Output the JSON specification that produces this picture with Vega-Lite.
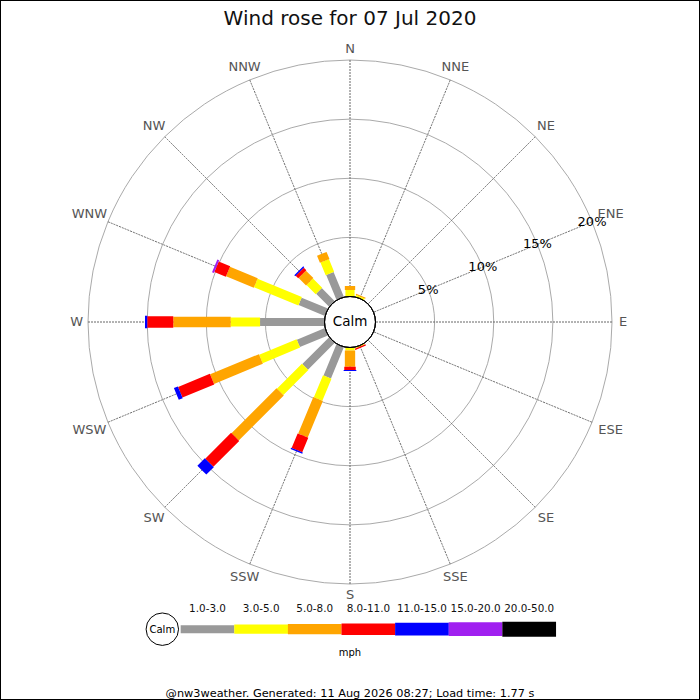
{
  "$schema": "https://vega.github.io/schema/vega-lite/v6.json",
  "background": "black",
  "padding": 1,
  "bounds": "flush",
  "spacing": 0,
  "config": {"view": {"stroke": null, "fill": "white"}, "font": "DejaVu Sans"},
  "datasets": {
    "dirs": [
      {"dir": 0, "label": "N"}, {"dir": 22.5, "label": "NNE"}, {"dir": 45, "label": "NE"}, {"dir": 67.5, "label": "ENE"},
      {"dir": 90, "label": "E"}, {"dir": 112.5, "label": "ESE"}, {"dir": 135, "label": "SE"}, {"dir": 157.5, "label": "SSE"},
      {"dir": 180, "label": "S"}, {"dir": 202.5, "label": "SSW"}, {"dir": 225, "label": "SW"}, {"dir": 247.5, "label": "WSW"},
      {"dir": 270, "label": "W"}, {"dir": 292.5, "label": "WNW"}, {"dir": 315, "label": "NW"}, {"dir": 337.5, "label": "NNW"}
    ],
    "rings": [
      {"ring": 5, "label": "5%"}, {"ring": 10, "label": "10%"}, {"ring": 15, "label": "15%"}, {"ring": 20, "label": "20%"}
    ],
    "rose": [
      {"dir": 0, "lo": 3, "pct": 0.55}, {"dir": 0, "lo": 5, "pct": 0.33},
      {"dir": 22.5, "lo": 3, "pct": 0.15}, {"dir": 22.5, "lo": 5, "pct": 0.1},
      {"dir": 157.5, "lo": 3, "pct": 0.08}, {"dir": 157.5, "lo": 8, "pct": 0.12},
      {"dir": 180, "lo": 3, "pct": 0.25}, {"dir": 180, "lo": 5, "pct": 1.37}, {"dir": 180, "lo": 8, "pct": 0.28}, {"dir": 180, "lo": 11, "pct": 0.09},
      {"dir": 202.5, "lo": 1, "pct": 2.87}, {"dir": 202.5, "lo": 3, "pct": 2.02}, {"dir": 202.5, "lo": 5, "pct": 3.35}, {"dir": 202.5, "lo": 8, "pct": 1.33}, {"dir": 202.5, "lo": 11, "pct": 0.11},
      {"dir": 225, "lo": 1, "pct": 3.21}, {"dir": 225, "lo": 3, "pct": 2.99}, {"dir": 225, "lo": 5, "pct": 5.38}, {"dir": 225, "lo": 8, "pct": 3.09}, {"dir": 225, "lo": 11, "pct": 0.89},
      {"dir": 247.5, "lo": 1, "pct": 2.57}, {"dir": 247.5, "lo": 3, "pct": 3.43}, {"dir": 247.5, "lo": 5, "pct": 4.47}, {"dir": 247.5, "lo": 8, "pct": 2.91}, {"dir": 247.5, "lo": 11, "pct": 0.36},
      {"dir": 270, "lo": 1, "pct": 5.45}, {"dir": 270, "lo": 3, "pct": 2.48}, {"dir": 270, "lo": 5, "pct": 4.86}, {"dir": 270, "lo": 8, "pct": 2.2}, {"dir": 270, "lo": 11, "pct": 0.19},
      {"dir": 292.5, "lo": 1, "pct": 2.41}, {"dir": 292.5, "lo": 3, "pct": 4.06}, {"dir": 292.5, "lo": 5, "pct": 2.54}, {"dir": 292.5, "lo": 8, "pct": 1.05}, {"dir": 292.5, "lo": 15, "pct": 0.17},
      {"dir": 315, "lo": 1, "pct": 1.56}, {"dir": 315, "lo": 3, "pct": 1.1}, {"dir": 315, "lo": 5, "pct": 0.89}, {"dir": 315, "lo": 8, "pct": 0.3}, {"dir": 315, "lo": 11, "pct": 0.12},
      {"dir": 337.5, "lo": 1, "pct": 2.29}, {"dir": 337.5, "lo": 3, "pct": 1.15}, {"dir": 337.5, "lo": 5, "pct": 0.64}
    ],
    "bins": [
      {"bin": "1.0-3.0", "lo": 1}, {"bin": "3.0-5.0", "lo": 3}, {"bin": "5.0-8.0", "lo": 5}, {"bin": "8.0-11.0", "lo": 8},
      {"bin": "11.0-15.0", "lo": 11}, {"bin": "15.0-20.0", "lo": 15}, {"bin": "20.0-50.0", "lo": 20}
    ]
  },
  "vconcat": [
    {
      "width": 698,
      "height": 642,
      "view": {"fill": "white", "stroke": null},
      "layer": [
        {
          "data": {"name": "rings"},
          "mark": {"type": "arc", "filled": false, "stroke": "#aaaaaa", "strokeWidth": 1},
          "encoding": {
            "theta": {"datum": 0, "type": "quantitative", "stack": null, "scale": {"domain": [0, 360], "range": [0, 6.283185307179586]}},
            "theta2": {"datum": 360},
            "radius": {"field": "ring", "type": "quantitative", "stack": null, "scale": {"type": "linear", "domain": [0, 20], "range": [25.5, 262], "nice": false, "zero": false}}
          }
        },
        {
          "data": {"name": "dirs"},
          "mark": {"type": "arc", "filled": false, "stroke": "#666666", "strokeWidth": 1, "strokeDash": [1, 2]},
          "encoding": {
            "theta": {"field": "dir", "type": "quantitative", "stack": null},
            "theta2": {"field": "dir"},
            "radius": {"datum": 20, "type": "quantitative", "stack": null},
            "radius2": {"datum": 0}
          }
        },
        {
          "data": {"name": "rose"},
          "mark": {"type": "arc", "filled": false, "strokeJoin": "bevel"},
          "encoding": {
            "theta": {"field": "dir", "type": "quantitative", "stack": null},
            "theta2": {"field": "dir"},
            "radius": {"field": "pct", "type": "quantitative", "stack": "zero", "scale": {"type": "linear", "domain": [0, 20], "range": [25.5, 262], "nice": false, "zero": false}},
            "color": {"field": "lo", "type": "ordinal", "legend": null, "scale": {"domain": [1, 3, 5, 8, 11, 15, 20], "range": ["#999999", "#ffff00", "#ffa500", "#ff0000", "#0000ff", "#a020f0", "#000000"]}},
            "strokeWidth": {"field": "lo", "type": "ordinal", "legend": null, "scale": {"domain": [1, 3, 5, 8, 11, 15, 20], "range": [8, 15, 20, 23, 24, 27, 28]}},
            "order": {"field": "lo", "type": "quantitative"}
          }
        },
        {
          "data": {"values": [{}]},
          "mark": {"type": "arc", "fill": "white", "stroke": "black", "strokeWidth": 1},
          "encoding": {
            "theta": {"datum": 0, "type": "quantitative", "stack": null},
            "theta2": {"datum": 360},
            "radius": {"datum": 0, "type": "quantitative", "stack": null}
          }
        },
        {
          "data": {"values": [{}]},
          "mark": {"type": "text", "text": "Calm", "fontSize": 13.5, "color": "black", "baseline": "middle"},
          "encoding": {}
        },
        {
          "data": {"values": [{}]},
          "mark": {"type": "text", "text": "Wind rose for 07 Jul 2020", "fontSize": 20, "color": "#111111", "baseline": "alphabetic", "dy": -297},
          "encoding": {}
        },
        {
          "data": {"name": "dirs"},
          "transform": [{"filter": "length(datum.label) == 1"}],
          "mark": {"type": "text", "fontSize": 13, "color": "#555555", "baseline": "middle"},
          "encoding": {
            "theta": {"field": "dir", "type": "quantitative", "stack": null},
            "radius": {"datum": 20.95, "type": "quantitative", "stack": null},
            "text": {"field": "label"}
          }
        },
        {
          "data": {"name": "dirs"},
          "transform": [{"filter": "length(datum.label) == 2"}],
          "mark": {"type": "text", "fontSize": 13, "color": "#555555", "baseline": "middle"},
          "encoding": {
            "theta": {"field": "dir", "type": "quantitative", "stack": null},
            "radius": {"datum": 21.27, "type": "quantitative", "stack": null},
            "text": {"field": "label"}
          }
        },
        {
          "data": {"name": "dirs"},
          "transform": [{"filter": {"field": "label", "oneOf": ["NNE", "SSE", "SSW", "NNW"]}}],
          "mark": {"type": "text", "fontSize": 13, "color": "#555555", "baseline": "middle"},
          "encoding": {
            "theta": {"field": "dir", "type": "quantitative", "stack": null},
            "radius": {"datum": 21.14, "type": "quantitative", "stack": null},
            "text": {"field": "label"}
          }
        },
        {
          "data": {"name": "dirs"},
          "transform": [{"filter": {"field": "label", "oneOf": ["ENE", "ESE", "WSW", "WNW"]}}],
          "mark": {"type": "text", "fontSize": 13, "color": "#555555", "baseline": "middle"},
          "encoding": {
            "theta": {"field": "dir", "type": "quantitative", "stack": null},
            "radius": {"datum": 21.69, "type": "quantitative", "stack": null},
            "text": {"field": "label"}
          }
        },
        {
          "data": {"name": "rings"},
          "mark": {"type": "text", "fontSize": 13, "color": "black", "baseline": "middle"},
          "encoding": {
            "theta": {"datum": 67.5, "type": "quantitative", "stack": null},
            "radius": {"field": "ring", "type": "quantitative", "stack": null},
            "text": {"field": "label"}
          }
        }
      ]
    },
    {
      "width": 698,
      "height": 56,
      "view": {"fill": "white", "stroke": null},
      "layer": [
        {
          "data": {"name": "bins"},
          "mark": {"type": "tick", "orient": "vertical", "thickness": 53.7, "yOffset": -41.8, "opacity": 1},
          "encoding": {
            "x": {"field": "bin", "type": "nominal", "axis": null, "scale": {"type": "band", "domain": ["Calm", "1.0-3.0", "3.0-5.0", "5.0-8.0", "8.0-11.0", "11.0-15.0", "15.0-20.0", "20.0-50.0"], "range": [126.1, 555], "paddingInner": 0, "paddingOuter": 0}},
            "color": {"field": "lo", "type": "ordinal", "legend": null, "scale": {"domain": [1, 3, 5, 8, 11, 15, 20], "range": ["#999999", "#ffff00", "#ffa500", "#ff0000", "#0000ff", "#a020f0", "#000000"]}},
            "size": {"field": "lo", "type": "ordinal", "legend": null, "scale": {"domain": [1, 3, 5, 8, 11, 15, 20], "range": [8, 15, 20, 23, 24, 27, 28]}}
          }
        },
        {
          "data": {"name": "bins"},
          "mark": {"type": "text", "dy": -59.3, "baseline": "alphabetic", "fontSize": 10.4, "color": "#111111"},
          "encoding": {
            "x": {"field": "bin", "type": "nominal", "axis": null},
            "text": {"field": "bin"}
          }
        },
        {
          "data": {"values": [{"bin": "Calm"}]},
          "mark": {"type": "point", "shape": "circle", "size": 1052, "filled": true, "fill": "white", "stroke": "black", "strokeWidth": 1, "opacity": 1, "yOffset": -41.8},
          "encoding": {
            "x": {"field": "bin", "type": "nominal", "axis": null, "bandPosition": 0.657}
          }
        },
        {
          "data": {"values": [{"bin": "Calm"}]},
          "mark": {"type": "text", "dy": -38, "baseline": "alphabetic", "fontSize": 10.1, "color": "black"},
          "encoding": {
            "x": {"field": "bin", "type": "nominal", "axis": null, "bandPosition": 0.657},
            "text": {"field": "bin"}
          }
        },
        {
          "data": {"values": [{}]},
          "mark": {"type": "text", "text": "mph", "dy": -15, "baseline": "alphabetic", "fontSize": 10, "color": "black"},
          "encoding": {}
        },
        {
          "data": {"values": [{}]},
          "mark": {"type": "text", "text": "@nw3weather. Generated: 11 Aug 2026 08:27; Load time: 1.77 s", "dy": 25.5, "baseline": "alphabetic", "fontSize": 11.3, "color": "black"},
          "encoding": {}
        }
      ]
    }
  ]
}
